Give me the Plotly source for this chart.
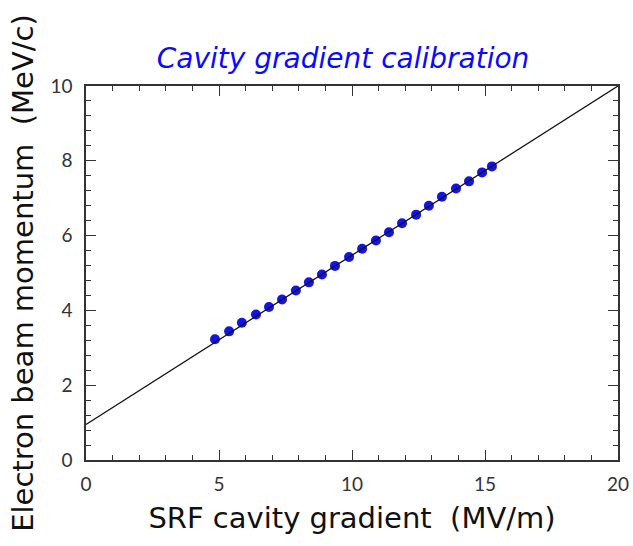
import plotly.graph_objects as go

# Measured beam momentum versus SRF cavity gradient
gradient = [4.85, 5.38, 5.86, 6.39, 6.88, 7.37, 7.89, 8.38, 8.87, 9.36, 9.89,
            10.38, 10.90, 11.39, 11.88, 12.41, 12.89, 13.38, 13.91, 14.40, 14.89, 15.26]
momentum = [3.23, 3.44, 3.67, 3.89, 4.09, 4.29, 4.53, 4.75, 4.96, 5.19, 5.43,
            5.65, 5.87, 6.09, 6.33, 6.56, 6.80, 7.04, 7.26, 7.45, 7.69, 7.85]

# Linear calibration fit, end points
fit_x = [0, 20]
fit_y = [0.95, 10.0]

x_ticks = [0, 5, 10, 15, 20]
y_ticks = [0, 2, 4, 6, 8, 10]

fig = go.Figure()
fig.add_trace(go.Scatter(
    x=gradient, y=momentum, mode="markers",
    marker=dict(color="#1414e6", size=10, line=dict(width=0)),
    showlegend=False,
))
fig.add_trace(go.Scatter(
    x=fit_x, y=fit_y, mode="lines",
    line=dict(color="#111111", width=1.3),
    showlegend=False,
))

tickfont = dict(family="Lato, DejaVu Sans, sans-serif", size=19, color="#333333")
titlefont = dict(family="DejaVu Sans, sans-serif", size=29, color="#111111")

fig.update_layout(
    width=633, height=546,
    margin=dict(l=86, r=15, t=86, b=86, autoexpand=False),
    paper_bgcolor="white", plot_bgcolor="white",
    title=dict(
        text="<i>Cavity gradient calibration</i>",
        font=dict(family="DejaVu Sans, sans-serif", size=28, color="#0a0aff"),
        x=0.542, xanchor="center", y=0.893, yanchor="middle",
    ),
    xaxis=dict(
        range=[0, 20], tickvals=x_ticks, ticktext=[str(v) for v in x_ticks],
        ticks="inside", ticklen=10, tickwidth=1.3, tickcolor="#333333",
        minor=dict(dtick=1, ticks="inside", ticklen=5, tickwidth=1.2, tickcolor="#333333"),
        showline=True, linecolor="#333333", linewidth=1.5, mirror="allticks",
        showgrid=False, zeroline=False, tickfont=tickfont, ticklabelstandoff=6,
        automargin=False,
        title=dict(text="SRF cavity gradient  (MV/m)", font=titlefont, standoff=14),
    ),
    yaxis=dict(
        range=[0, 10], tickvals=y_ticks, ticktext=[str(v) for v in y_ticks],
        ticks="inside", ticklen=10, tickwidth=1.3, tickcolor="#333333",
        minor=dict(dtick=0.4, ticks="inside", ticklen=5, tickwidth=1.2, tickcolor="#333333"),
        showline=True, linecolor="#333333", linewidth=1.5, mirror="allticks",
        showgrid=False, zeroline=False, tickfont=tickfont, ticklabelstandoff=8,
        automargin=False,
        title=dict(text="Electron beam momentum  (MeV/c)", font=titlefont, standoff=8),
    ),
)

fig.write_html("out.html")
